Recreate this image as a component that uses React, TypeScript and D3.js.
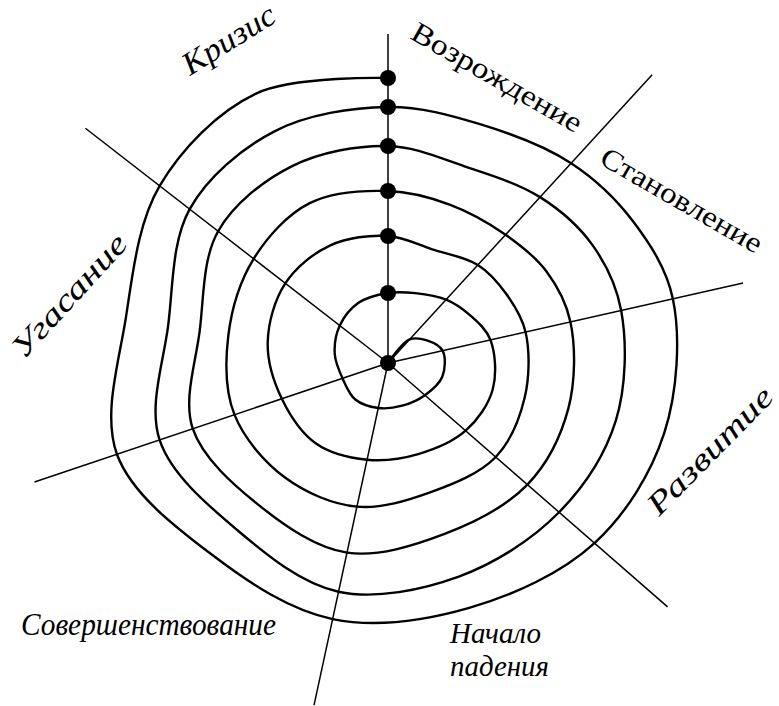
import React from "react";
import * as d3 from "d3";

// Stage names (sectors, clockwise from the vertical axis)
const stages = [
  "Возрождение",
  "Становление",
  "Развитие",
  "Начало падения",
  "Совершенствование",
  "Угасание",
  "Кризис",
];

// Axis directions (degrees clockwise from 12 o'clock) and lengths
const axisAngles = [0, 42.5, 77.3, 131.1, 192.2, 251.4, 307.8];
const axisLengths = [329, 391, 364, 371, 350, 373, 383];

// Spiral radius where each turn crosses axes 2..7 and then the vertical axis
const turn1 = [32, 56, 49, 46, 48, 61, 70];
const turn2 = [86, 105, 103, 99, 112, 130, 127];
const turn3 = [133, 141, 143, 147, 162, 170, 172];
const turn4 = [174, 187, 185, 194, 206, 215, 217];
const turn5 = [225, 239, 227, 234, 241, 251, 256];
const turn6 = [271, 292, 274, 262, 286, 289, 285];
const turns = [turn1, turn2, turn3, turn4, turn5, turn6];

// Spiral radius in the middle of each sector (sector 1 = vertical..NE, ...)
const mid1 = [null, 45, 56, 45, 49, 54, 67];
const mid2 = [75, 95, 108, 96, 108, 122, 131];
const mid3 = [122, 137, 141, 136, 154, 162, 178];
const mid4 = [170, 183, 186, 180, 192, 191, 219];
const mid5 = [211, 236, 235, 225, 225, 223, 258];
const mid6 = [256, 283, 285, 258, 260, 266, 300];
const mids = [mid1, mid2, mid3, mid4, mid5, mid6];

// Label layout (separate from data)
const labelLayout = [
  { x: 409, y: 38, rot: 29.8, size: 29, italic: false, len: [192] },
  { x: 598, y: 163, rot: 30, size: 29, italic: false, len: [182] },
  { x: 659, y: 517, rot: -45.5, size: 31, italic: true, len: [166] },
  { x: 450, y: 643, rot: 0, size: 29, italic: true, len: [91, 99] },
  { x: 21, y: 635, rot: 0, size: 31, italic: true, len: [255] },
  { x: 24, y: 360, rot: -47.5, size: 31, italic: true, len: [156] },
  { x: 190, y: 76, rot: -32, size: 32, italic: true, len: [104] },
];

const W = 779;
const H = 706;
const cx = 388;
const cy = 363;

export default function App() {
  const rad = (deg: number) => (deg * Math.PI) / 180;
  const r = d3.scaleLinear().domain([0, 300]).range([0, 300]);

  const sectorMid = axisAngles.map((a, i) => {
    const b = i === axisAngles.length - 1 ? 360 : axisAngles[i + 1];
    return (a + b) / 2;
  });

  const pts: [number, number][] = [[rad(axisAngles[1]), 0]];
  turns.forEach((t, k) => {
    const m = mids[k];
    for (let s = 0; s < 7; s++) {
      const mv = m[s];
      if (mv !== null) pts.push([rad(sectorMid[s] + 360 * k), r(mv)]);
      const ax = (s + 1) % 7;
      const ang = axisAngles[ax] + 360 * k + (ax === 0 ? 360 : 0);
      pts.push([rad(ang), r(t[s])]);
    }
  });

  const spiral = d3
    .lineRadial<[number, number]>()
    .angle((d) => d[0])
    .radius((d) => d[1])
    .curve(d3.curveCatmullRom.alpha(0.5));

  const pol = (deg: number, rr: number) => [
    Math.sin(rad(deg)) * rr,
    -Math.cos(rad(deg)) * rr,
  ];

  const dots = [0, ...turns.map((t) => t[6])];
  const font = '"Liberation Serif", "Times New Roman", serif';

  return (
    <svg
      width={W}
      height={H}
      style={{ position: "absolute", left: 0, top: 0, background: "#fff" }}
    >
      <rect width={W} height={H} fill="#fff" />
      <g transform={`translate(${cx},${cy})`}>
        {axisAngles.map((a, i) => {
          const [x2, y2] = pol(a, axisLengths[i]);
          return (
            <line
              key={i}
              x1={0}
              y1={0}
              x2={x2}
              y2={y2}
              stroke="#000"
              strokeWidth={1.5}
            />
          );
        })}
        <path
          d={spiral(pts) || ""}
          fill="none"
          stroke="#000"
          strokeWidth={2.4}
          strokeLinejoin="round"
        />
        {dots.map((d, i) => {
          const [x, y] = pol(0, r(d));
          return <circle key={i} cx={x} cy={y} r={8} fill="#000" />;
        })}
      </g>
      {stages.map((s, i) => {
        const L = labelLayout[i];
        const words = L.len.length > 1 ? s.split(" ") : [s];
        return (
          <g key={i} transform={`translate(${L.x},${L.y}) rotate(${L.rot})`}>
            {words.map((w, j) => (
              <text
                key={j}
                x={0}
                y={j * 33}
                fontFamily={font}
                fontStyle={L.italic ? "italic" : "normal"}
                fontSize={L.size}
                textLength={L.len[j]}
                lengthAdjust="spacingAndGlyphs"
                fill="#000"
              >
                {w}
              </text>
            ))}
          </g>
        );
      })}
    </svg>
  );
}
